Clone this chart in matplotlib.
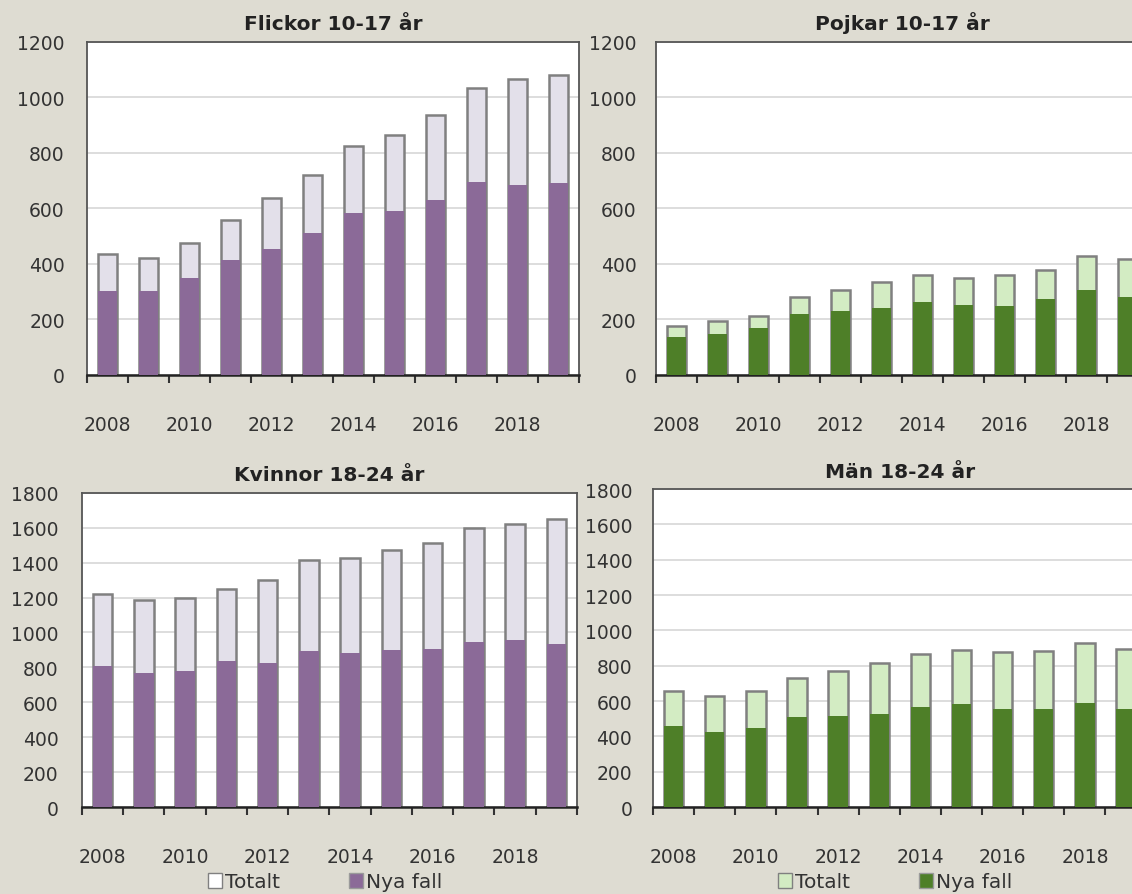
import numpy as np
import matplotlib.pyplot as plt
from matplotlib.patches import Patch

years = list(range(2008, 2020))

# Flickor 10-17 år
flickor_tot = [435, 420, 474, 558, 636, 722, 826, 866, 936, 1034, 1068, 1080]
flickor_nya = [302, 302, 350, 413, 453, 510, 585, 592, 632, 695, 684, 690]
# Pojkar 10-17 år
pojkar_tot = [178, 195, 213, 281, 307, 336, 361, 350, 361, 379, 429, 418]
pojkar_nya = [138, 149, 169, 219, 231, 242, 264, 253, 250, 275, 307, 282]
# Kvinnor 18-24 år
kvinnor_tot = [1219, 1185, 1196, 1248, 1303, 1413, 1425, 1470, 1514, 1596, 1623, 1653]
kvinnor_nya = [810, 766, 777, 834, 823, 895, 880, 901, 905, 943, 958, 933]
# Män 18-24 år
man_tot = [657, 628, 657, 728, 772, 814, 865, 888, 876, 884, 928, 895]
man_nya = [460, 425, 450, 511, 517, 527, 566, 585, 552, 556, 590, 556]

bg = '#dedcd2'
purple = '#8b6a98'
purple_light = '#e3e0ea'
green = '#4e7f28'
green_light = '#d3ecc3'
edge = '#808080'
text_col = '#333333'

plt.rcParams['font.family'] = ['DejaVu Sans']

fig = plt.figure(figsize=(11.32, 8.95), dpi=100, facecolor=bg)

panels = [
    ("Flickor 10-17 år", flickor_tot, flickor_nya, purple_light, purple, 1200,
     [0.0769, 0.580, 0.4346, 0.372], 16),
    ("Pojkar 10-17 år", pojkar_tot, pojkar_nya, green_light, green, 1200,
     [0.5795, 0.580, 0.4346, 0.372], 14),
    ("Kvinnor 18-24 år", kvinnor_tot, kvinnor_nya, purple_light, purple, 1800,
     [0.0724, 0.0972, 0.4373, 0.351], 17),
    ("Män 18-24 år", man_tot, man_nya, green_light, green, 1800,
     [0.5769, 0.0972, 0.4360, 0.3553], 15),
]

x = np.arange(len(years))
axes = []
for title, tot, nya, c_tot, c_nya, ymax, pos, ypad in panels:
    ax = fig.add_axes(pos)
    ax.set_facecolor('white')
    ax.bar(x, tot, width=0.47, color=c_tot, edgecolor=edge, linewidth=1.8, zorder=2)
    ax.bar(x, nya, width=0.47, color=c_nya, edgecolor='none', zorder=3)
    ax.set_xlim(-0.5, len(years) - 0.5)
    ax.set_ylim(0, ymax)
    ax.set_yticks(range(0, ymax + 1, 200))
    ax.yaxis.grid(True, color='#dadada', linewidth=1.3, zorder=0)
    ax.set_axisbelow(True)
    ax.tick_params(axis='y', length=0, pad=ypad, labelsize=13.5, labelcolor=text_col)
    # ticks at category boundaries, labels every second year
    ax.set_xticks(np.arange(-0.5, len(years) + 0.5, 1))
    ax.set_xticklabels([])
    ax.tick_params(axis='x', which='major', length=6, width=1.5, color='#333333')
    ax.set_xticks(x[::2], minor=True)
    ax.set_xticklabels([str(y) for y in years[::2]], minor=True)
    ax.tick_params(axis='x', which='minor', length=0, pad=29, labelsize=13.5,
                   labelcolor=text_col)
    for s in ax.spines.values():
        s.set_color('#555555')
        s.set_linewidth(1.3)
    ax.spines['bottom'].set_color('#222222')
    ax.spines['bottom'].set_linewidth(1.8)
    ax.set_title(title, fontsize=14.5, fontweight='bold', color='#222222', pad=9)
    axes.append(ax)

# legends below the lower panels (partly cut by the lower edge, as in the source)
for ax, c_tot, c_nya in [(axes[2], 'white', purple), (axes[3], green_light, green)]:
    handles = [Patch(facecolor=c_tot, edgecolor=edge, label='Totalt'),
               Patch(facecolor=c_nya, edgecolor='#9a9a9a', label='Nya fall')]
    p = ax.get_position()
    fig.legend(handles=handles, loc='center',
               bbox_to_anchor=(p.x0 + p.width / 2 - 0.004, 1 - 883 / 895),
               ncol=2, frameon=False, fontsize=14.5, handlelength=0.7, handleheight=0.7,
               handletextpad=0.15, columnspacing=3.4, labelcolor=text_col,
               borderpad=0, borderaxespad=0)

fig.savefig('out.png', dpi=100, facecolor=bg)
